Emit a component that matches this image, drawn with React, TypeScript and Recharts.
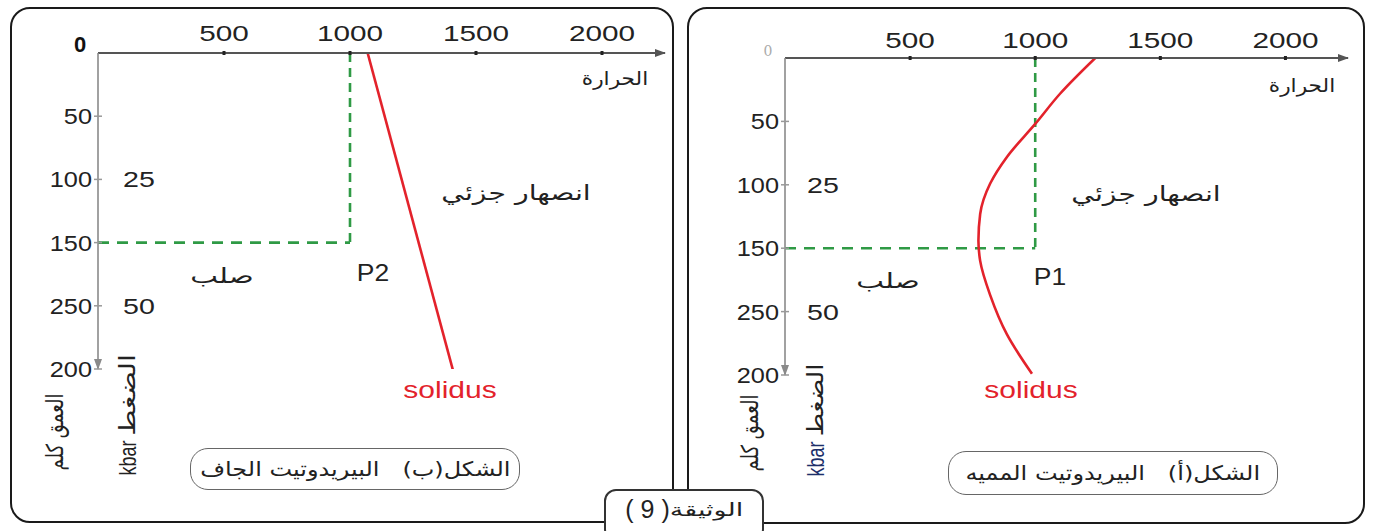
import React from "react";
import { LineChart, Line, XAxis, YAxis } from "recharts";

// axis ticks (the depth labels are printed out of order in the original)
const tempTicks = [0, 500, 1000, 1500, 2000];
const depthTicks = [50, 100, 150, 200, 250];
const depthTickLabels = ["50", "100", "150", "250", "200"];
const kbarTicks = [100, 200];
const kbarLabels = ["25", "50"];

// figure (b): dry peridotite
const drySolidusDepth = [0, 252];
const drySolidusTemp = [1070, 1410];
const dryP2 = { temp: 1000, depth: 150 };

// figure (a): hydrated peridotite
const wetSolidusDepth = [0, 28, 52, 78, 99, 123, 144, 160, 187, 218, 249];
const wetSolidusTemp = [1240, 1100, 1000, 887, 820, 780, 773, 780, 820, 887, 987];
const wetP1 = { temp: 1000, depth: 150 };

const TEMP_MAX = 2250;
const DEPTH_MAX = 250;

const LATIN = "'Liberation Sans', Arial, sans-serif";
const ARABIC = "'DejaVu Sans', 'Liberation Sans', sans-serif";

type Row = { depth: number; temp: number };

const rows = (depths: number[], temps: number[]): Row[] =>
  depths.map((d, i) => ({ depth: d, temp: temps[i] }));

const guideLines = (p: { temp: number; depth: number }) => ({
  vertical: [
    { depth: 0, temp: p.temp },
    { depth: p.depth, temp: p.temp },
  ],
  horizontal: [
    { depth: p.depth, temp: 0 },
    { depth: p.depth, temp: p.temp },
  ],
});

const TempTick = (props: any) => {
  const { x, y, payload, zeroBold, labelOffset } = props;
  if (payload.value === 0) {
    return zeroBold ? (
      <text x={x - 18} y={y - 1} textAnchor="middle" fontSize={22} fontWeight="bold" fill="#111" fontFamily={LATIN}>
        0
      </text>
    ) : (
      <text x={x - 17} y={y - 2} textAnchor="middle" fontSize={14} fill="#aaa" fontFamily="'DejaVu Serif', serif">
        0
      </text>
    );
  }
  return (
    <g>
      <line x1={x} x2={x} y1={y - 2} y2={y + 2} stroke="#222" strokeWidth={3} />
      <text
        transform={`translate(${x},${y - labelOffset}) scale(1.35,1)`}
        textAnchor="middle"
        fontSize={22}
        fill="#222"
        fontFamily={LATIN}
      >
        {payload.value}
      </text>
    </g>
  );
};

const DepthTick = (props: any) => {
  const { x, y, payload, kbarOffset } = props;
  const i = depthTicks.indexOf(payload.value);
  const k = kbarTicks.indexOf(payload.value);
  return (
    <g>
      <line x1={x - 4} x2={x + 4} y1={y} y2={y} stroke="#999" strokeWidth={1.5} />
      <text
        transform={`translate(${x - 6},${y + 8}) scale(1.15,1)`}
        textAnchor="end"
        fontSize={22}
        fill="#222"
        fontFamily={LATIN}
      >
        {depthTickLabels[i]}
      </text>
      {k >= 0 && (
        <text
          transform={`translate(${x + kbarOffset},${y + 8}) scale(1.3,1)`}
          textAnchor="middle"
          fontSize={22}
          fill="#222"
          fontFamily={LATIN}
        >
          {kbarLabels[k]}
        </text>
      )}
    </g>
  );
};

type PanelChartProps = {
  left: number;
  top: number;
  width: number;
  height: number;
  margin: { top: number; right: number; bottom: number; left: number };
  solidus: Row[];
  curveType: "linear" | "monotone";
  point: { temp: number; depth: number };
  zeroBold: boolean;
  labelOffset: number;
  kbarOffset: number;
};

function PanelChart({
  left,
  top,
  width,
  height,
  margin,
  solidus,
  curveType,
  point,
  zeroBold,
  labelOffset,
  kbarOffset,
}: PanelChartProps) {
  const guide = guideLines(point);
  return (
    <div style={{ position: "absolute", left, top }}>
      <LineChart width={width} height={height} layout="vertical" margin={margin} style={{ overflow: "visible" }}>
        <XAxis
          type="number"
          dataKey="temp"
          orientation="top"
          domain={[0, TEMP_MAX]}
          ticks={tempTicks}
          height={1}
          tickSize={0}
          tickMargin={0}
          tickLine={false}
          allowDataOverflow
          axisLine={{ stroke: "#555", strokeWidth: 2, markerEnd: "url(#arrowX)" }}
          tick={<TempTick zeroBold={zeroBold} labelOffset={labelOffset} />}
        />
        <YAxis
          type="number"
          dataKey="depth"
          domain={[0, DEPTH_MAX]}
          ticks={depthTicks}
          width={1}
          tickSize={0}
          tickMargin={0}
          tickLine={false}
          allowDataOverflow
          axisLine={{ stroke: "#8a8a8a", strokeWidth: 1.6, markerEnd: "url(#arrowY)" }}
          tick={<DepthTick kbarOffset={kbarOffset} />}
        />
        <Line
          data={guide.vertical}
          dataKey="temp"
          type="linear"
          stroke="#2f9a45"
          strokeWidth={2.6}
          strokeDasharray="9 6"
          dot={false}
          isAnimationActive={false}
        />
        <Line
          data={guide.horizontal}
          dataKey="temp"
          type="linear"
          stroke="#2f9a45"
          strokeWidth={2.6}
          strokeDasharray="11 8"
          dot={false}
          isAnimationActive={false}
        />
        <Line
          data={solidus}
          dataKey="temp"
          type={curveType}
          stroke="#e3222b"
          strokeWidth={2.6}
          dot={false}
          isAnimationActive={false}
        />
      </LineChart>
    </div>
  );
}

const Note = ({
  x,
  y,
  size = 18,
  sx = 1,
  sy = 1,
  color = "#222",
  font = ARABIC,
  rotate = 0,
  children,
}: {
  x: number;
  y: number;
  size?: number;
  sx?: number;
  sy?: number;
  color?: string;
  font?: string;
  rotate?: number;
  children: React.ReactNode;
}) => (
  <div
    style={{
      position: "absolute",
      left: x,
      top: y,
      transform: `translate(-50%,-50%) rotate(${rotate}deg) scale(${sx},${sy})`,
      fontSize: size,
      fontFamily: font,
      color,
      whiteSpace: "nowrap",
      lineHeight: 1,
    }}
  >
    {children}
  </div>
);

const Caption = ({ x, y, w, h, children }: { x: number; y: number; w: number; h: number; children: React.ReactNode }) => (
  <div
    style={{
      position: "absolute",
      left: x,
      top: y,
      width: w,
      height: h,
      border: "1.5px solid #666",
      borderRadius: 18,
      background: "#fff",
      boxSizing: "border-box",
      display: "flex",
      alignItems: "center",
      justifyContent: "center",
      fontFamily: ARABIC,
      fontSize: 20,
      color: "#222",
      direction: "rtl",
      whiteSpace: "nowrap",
    }}
  >
    <span style={{ display: "inline-block", transform: "scaleX(1.2)" }}>{children}</span>
  </div>
);

export default function App() {
  const frame: React.CSSProperties = {
    position: "absolute",
    border: "2.5px solid #1a1a1a",
    borderRadius: 20,
    boxSizing: "border-box",
  };
  return (
    <div
      style={{
        position: "absolute",
        left: 0,
        top: 0,
        width: 1373,
        height: 531,
        background: "#fff",
        overflow: "hidden",
      }}
    >
      <svg width={0} height={0} style={{ position: "absolute" }}>
        <defs>
          <marker id="arrowX" markerWidth={12} markerHeight={10} refX={10} refY={5} orient="auto" markerUnits="userSpaceOnUse">
            <path d="M0,1 L11,5 L0,9 Z" fill="#555" />
          </marker>
          <marker id="arrowY" markerWidth={12} markerHeight={10} refX={10} refY={5} orient="auto" markerUnits="userSpaceOnUse">
            <path d="M0,1 L11,5 L0,9 Z" fill="#8a8a8a" />
          </marker>
        </defs>
      </svg>

      {/* panel frames */}
      <div style={{ ...frame, left: 10, top: 7, width: 664, height: 516 }} />
      <div style={{ ...frame, left: 687, top: 7, width: 678, height: 517 }} />

      {/* figure (b) dry */}
      <PanelChart
        left={10}
        top={7}
        width={663}
        height={420}
        margin={{ top: 45, right: 8, bottom: 58, left: 87 }}
        solidus={rows(drySolidusDepth, drySolidusTemp)}
        curveType="linear"
        point={dryP2}
        zeroBold
        labelOffset={12}
        kbarOffset={41}
      />
      <Note x={615} y={78} size={19} sx={1.14}>الحرارة</Note>
      <Note x={516} y={193} size={21} sx={1.35}>انصهار جزئي</Note>
      <Note x={222} y={276} size={21} sx={1.4}>صلب</Note>
      <Note x={373} y={273} size={23} sx={1.15} font={LATIN}>P2</Note>
      <Note x={450} y={390} size={24} sx={1.25} font={LATIN} color="#e3222b">solidus</Note>
      <Note x={55} y={432} size={18} sy={1.3} rotate={-90}>العمق كلم</Note>
      <Note x={128} y={458} size={18} sy={1.3} rotate={-90} font={LATIN}>kbar</Note>
      <Note x={128} y={395} size={21} sx={1.35} sy={1.05} rotate={-90}>الضغط</Note>
      <Caption x={190} y={448} w={330} h={42}>
        الشكل(ب)&nbsp;&nbsp; البيريدوتيت الجاف
      </Caption>

      {/* figure (a) hydrated */}
      <PanelChart
        left={688}
        top={7}
        width={675}
        height={420}
        margin={{ top: 50, right: 15, bottom: 52, left: 96 }}
        solidus={rows(wetSolidusDepth, wetSolidusTemp)}
        curveType="monotone"
        point={wetP1}
        zeroBold={false}
        labelOffset={10}
        kbarOffset={38}
      />
      <Note x={1302} y={85} size={19} sx={1.14}>الحرارة</Note>
      <Note x={1146} y={194} size={21} sx={1.35}>انصهار جزئي</Note>
      <Note x={888} y={281} size={21} sx={1.4}>صلب</Note>
      <Note x={1050} y={277} size={23} sx={1.15} font={LATIN}>P1</Note>
      <Note x={1031} y={390} size={24} sx={1.25} font={LATIN} color="#e3222b">solidus</Note>
      <Note x={750} y={433} size={18} sy={1.3} rotate={-90}>العمق كلم</Note>
      <Note x={816} y={459} size={18} sy={1.3} rotate={-90} font={LATIN} color="#1d2f6a">kbar</Note>
      <Note x={816} y={400} size={21} sx={1.2} sy={1.05} rotate={-90}>الضغط</Note>
      <Caption x={948} y={451} w={330} h={44}>
        الشكل(أ)&nbsp;&nbsp; البيريدوتيت المميه
      </Caption>

      {/* document tag */}
      <div
        style={{
          position: "absolute",
          left: 604,
          top: 489,
          width: 160,
          height: 52,
          border: "2px solid #333",
          borderRadius: 12,
          background: "#fff",
          boxSizing: "border-box",
          display: "flex",
          justifyContent: "center",
          alignItems: "flex-start",
          paddingTop: 4,
          color: "#222",
          direction: "rtl",
          whiteSpace: "nowrap",
        }}
      >
        <span style={{ display: "inline-block", fontFamily: ARABIC, fontSize: 18, transform: "scaleX(1.5)", margin: "4px 12px 0 12px" }}>
          الوثيقة
        </span>
        <span style={{ fontFamily: LATIN, fontSize: 25, direction: "ltr", unicodeBidi: "isolate" }}>( 9 )</span>
      </div>
    </div>
  );
}
